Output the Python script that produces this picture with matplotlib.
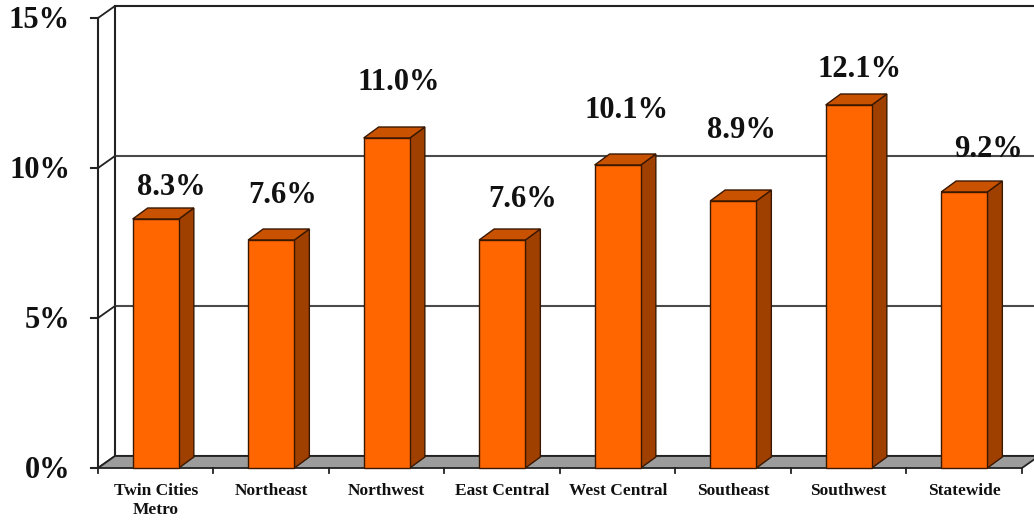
import matplotlib
matplotlib.use("Agg")
import matplotlib.pyplot as plt
from matplotlib.patches import Polygon

# Data
categories = ["Twin Cities\nMetro", "Northeast", "Northwest", "East Central",
              "West Central", "Southeast", "Southwest", "Statewide"]
values = [8.3, 7.6, 11.0, 7.6, 10.1, 8.9, 12.1, 9.2]
labels = ["8.3%", "7.6%", "11.0%", "7.6%", "10.1%", "8.9%", "12.1%", "9.2%"]
y_ticks = [0, 5, 10, 15]
y_tick_labels = ["0%", "5%", "10%", "15%"]

# Value-label placement (pixels from the top-front centre of each bar)
label_dx = [16, 11, 12, 20, 9, 8, 11, 24]
label_dy = [24, 37, 48, 33, 47, 63, 28, 35]

# Styling
FRONT = "#FF6600"
TOP = "#C85200"
SIDE = "#A04000"
EDGE = "#3A1800"
FLOOR = "#9C9C9C"
LINE = "#222222"
GRID = "#4A4A4A"
SERIF = ["Liberation Serif", "DejaVu Serif"]

W, H, DPI = 1034, 520, 100
fig = plt.figure(figsize=(W / DPI, H / DPI), dpi=DPI)
ax = fig.add_axes([0, 0, 1, 1])
ax.set_xlim(-1.3485, 7.604)
ax.set_ylim(-1.733, 15.6)
ax.axis("off")

# pixel -> data conversion factors
px_x = (7.604 + 1.3485) / W
px_y = (15.6 + 1.733) / H

# 3-D depth of the plot box and of the bars
DX, DY = 17 * px_x, 12 * px_y
BDX, BDY = 15 * px_x, 11 * px_y
BAR_W = 0.40

n = len(categories)
x0, x1 = -0.5, n - 0.5
ymax = max(y_ticks)

# back wall
ax.add_patch(Polygon([(x0 + DX, DY), (x1 + DX, DY), (x1 + DX, ymax + DY),
                      (x0 + DX, ymax + DY)], closed=True,
                     facecolor="white", edgecolor=LINE, lw=1.5, zorder=1))
for t in y_ticks[1:-1]:
    ax.plot([x0 + DX, x1 + DX], [t + DY, t + DY], color=GRID, lw=1.5, zorder=2)

# left side wall edges and tick diagonals
ax.plot([x0, x0], [0, ymax], color=LINE, lw=1.5, zorder=6)
for t in y_ticks:
    ax.plot([x0, x0 + DX], [t, t + DY], color=LINE, lw=1.3, zorder=2)
    ax.plot([x0 - 7 * px_x, x0], [t, t], color=LINE, lw=1.5, zorder=6)
    ax.annotate(y_tick_labels[y_ticks.index(t)], xy=(x0, t),
                xytext=(-28, -10), textcoords="offset pixels",
                ha="right", va="baseline", fontsize=22, fontweight="bold",
                family=SERIF, color="#111111")

# floor
ax.add_patch(Polygon([(x0, 0), (x1, 0), (x1 + DX, DY), (x0 + DX, DY)],
                     closed=True, facecolor=FLOOR, edgecolor=LINE, lw=1.3,
                     zorder=3))

# category ticks and labels
for k in range(n + 1):
    xt = x0 + k
    ax.plot([xt, xt], [0, -5 * px_y], color=LINE, lw=1.3, zorder=6)
for i, c in enumerate(categories):
    ax.annotate(c, xy=(i, 0), xytext=(0, -15), textcoords="offset pixels",
                ha="center", va="top", fontsize=12.5, fontweight="bold",
                family=SERIF, color="#111111", linespacing=1.25)

# bars
for i, v in enumerate(values):
    l, r = i - BAR_W / 2, i + BAR_W / 2
    side = [(r, 0), (r + BDX, BDY), (r + BDX, v + BDY), (r, v)]
    top = [(l, v), (r, v), (r + BDX, v + BDY), (l + BDX, v + BDY)]
    ax.add_patch(Polygon(side, closed=True, facecolor=SIDE, edgecolor=EDGE,
                         lw=1.0, zorder=4))
    ax.add_patch(Polygon(top, closed=True, facecolor=TOP, edgecolor=EDGE,
                         lw=1.0, zorder=4))
    ax.bar(i, v, width=BAR_W, color=FRONT, edgecolor=EDGE, lw=1.0, zorder=5)
    ax.annotate(labels[i], xy=(i, v), xytext=(label_dx[i], label_dy[i]),
                textcoords="offset pixels", ha="center", va="baseline",
                fontsize=22, fontweight="bold", family=SERIF, color="#111111",
                zorder=7)

fig.savefig("out.png", dpi=DPI)
